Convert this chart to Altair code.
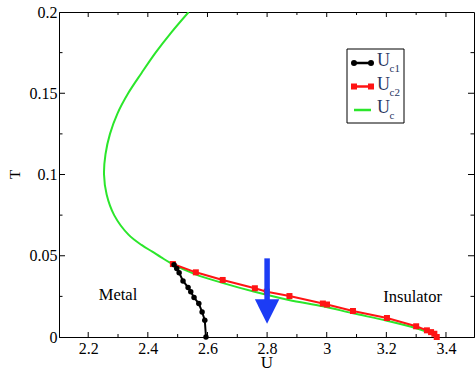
import altair as alt
import pandas as pd

# ---------------- data ----------------
U_c1 = [2.488, 2.497, 2.505, 2.518, 2.535, 2.544, 2.555, 2.571, 2.582, 2.591, 2.595]
T_c1 = [0.0445, 0.0422, 0.0395, 0.0345, 0.0305, 0.0278, 0.0243, 0.0206, 0.0154, 0.0103, 0.0]

U_c2 = [2.484, 2.561, 2.651, 2.759, 2.799, 2.875, 2.987, 3.001, 3.088, 3.202, 3.300, 3.336, 3.350, 3.361, 3.369]
T_c2 = [0.0449, 0.0398, 0.0351, 0.0300, 0.0279, 0.0252, 0.0206, 0.0200, 0.0160, 0.0117, 0.0066, 0.0041, 0.0030, 0.0020, 0.0]

U_c = [2.537, 2.479, 2.426, 2.379, 2.334, 2.298, 2.273, 2.258, 2.253, 2.262, 2.287, 2.335,
       2.380, 2.415, 2.445, 2.474, 2.560, 2.650, 2.758, 2.873, 2.987, 3.088, 3.202, 3.300, 3.350, 3.366]
T_c = [0.200, 0.1875, 0.175, 0.1625, 0.150, 0.1375, 0.125, 0.1125, 0.100, 0.0875, 0.075, 0.0630,
       0.0565, 0.0525, 0.0490, 0.0458, 0.0385, 0.0333, 0.0278, 0.0228, 0.0189, 0.0146, 0.0100, 0.0054, 0.0022, 0.0]

x_major = [2.2, 2.4, 2.6, 2.8, 3.0, 3.2, 3.4]
x_minor = [2.3, 2.5, 2.7, 2.9, 3.1, 3.3]
y_major = [0, 0.05, 0.1, 0.15, 0.2]
y_inner_major = [0.05, 0.1, 0.15]
y_minor = [0.025, 0.075, 0.125, 0.175]

region_labels = ["Metal", "Insulator"]
region_U = [2.30, 3.288]
region_T = [0.0257, 0.0247]

arrow_U = [2.8]
arrow_T_top = [0.0484]
arrow_T_shaft_end = [0.022]
arrow_T_head = [0.0157]

legend_subs = ["c1", "c2", "c"]
legend_colors = ["#000000", "#ff1414", "#2be62b"]
legend_shapes = ["circle", "square", None]

# ---------------- layout constants ----------------
W, H = 415, 325
XDOM = [2.102, 3.494]
YDOM = [0, 0.2]
FONT = "Times New Roman, Liberation Serif, DejaVu Serif, serif"

xs = alt.Scale(domain=XDOM, nice=False, zero=False)
ys = alt.Scale(domain=YDOM, nice=False, zero=False)

def X(field):
    return alt.X(field, scale=xs, title="U")

def Y(field):
    return alt.Y(field, scale=ys, title="T")

df_c1 = pd.DataFrame({"U": U_c1, "T": T_c1, "i": range(len(U_c1))})
df_c2 = pd.DataFrame({"U": U_c2, "T": T_c2, "i": range(len(U_c2))})
df_c = pd.DataFrame({"U": U_c, "T": T_c, "i": range(len(U_c))})

x_axis = alt.Axis(values=x_major, format="~g", title="U", titleFont=FONT, titleFontSize=17,
                  titleFontWeight="normal", titleColor="black", titleBaseline="alphabetic",
                  titleY=30, labelFont=FONT, labelFontSize=16, labelColor="black",
                  labelPadding=3, tickSize=0, domainColor="black", grid=False)
y_axis = alt.Axis(values=y_major, format="~g", title="T", titleFont=FONT, titleFontSize=15,
                  titleFontWeight="normal", titleColor="black", titleX=-40, titleY=162,
                  titleAlign="center", titleBaseline="alphabetic",
                  labelFont=FONT, labelFontSize=16, labelColor="black",
                  labelPadding=2, tickSize=0, domainColor="black", grid=False)

green = alt.Chart(df_c).mark_line(color="#2be62b", strokeWidth=2, interpolate="catmull-rom", clip=True).encode(
    x=alt.X("U:Q", scale=xs, axis=x_axis),
    y=alt.Y("T:Q", scale=ys, axis=y_axis),
    order="i:Q",
)

red_line = alt.Chart(df_c2).mark_line(color="#ff1414", strokeWidth=2).encode(
    x=X("U:Q"), y=Y("T:Q"), order="i:Q")
red_pts = alt.Chart(df_c2).mark_point(shape="square", filled=True, size=36, color="#ff1414", opacity=1).encode(
    x=X("U:Q"), y=Y("T:Q"))

black_line = alt.Chart(df_c1).mark_line(color="black", strokeWidth=2).encode(
    x=X("U:Q"), y=Y("T:Q"), order="i:Q")
black_pts = alt.Chart(df_c1).mark_point(shape="circle", filled=True, size=30, color="black", opacity=1).encode(
    x=X("U:Q"), y=Y("T:Q"))

# region labels
df_reg = pd.DataFrame({"label": region_labels, "U": region_U, "T": region_T})
regions = alt.Chart(df_reg).mark_text(font=FONT, fontSize=16.5, color="black", baseline="middle").encode(
    x=X("U:Q"), y=Y("T:Q"), text="label:N")

# arrow
df_arrow = pd.DataFrame({"U": arrow_U, "T0": arrow_T_top, "T1": arrow_T_shaft_end, "Th": arrow_T_head})
arrow_shaft = alt.Chart(df_arrow).mark_rule(color="#1c3cf5", strokeWidth=5.5).encode(
    x=X("U:Q"), y=Y("T0:Q"), y2="T1:Q")
arrow_head = alt.Chart(df_arrow).mark_point(shape="M-1,-1L1,-1L0,1Z", filled=True, size=600,
                                            color="#1c3cf5", opacity=1).encode(
    x=X("U:Q"), y=Y("Th:Q"))

# inward ticks on all four sides
df_xM = pd.DataFrame({"v": x_major})
df_xm = pd.DataFrame({"v": x_minor})
df_yM = pd.DataFrame({"v": y_inner_major})
df_ym = pd.DataFrame({"v": y_minor})

def xticks(df, length):
    b = alt.Chart(df).mark_rule(color="black", strokeWidth=1).encode(
        x=X("v:Q"), y=alt.value(H), y2=alt.value(H - length))
    t = alt.Chart(df).mark_rule(color="black", strokeWidth=1).encode(
        x=X("v:Q"), y=alt.value(0), y2=alt.value(length))
    return [b, t]

def yticks(df, length):
    l = alt.Chart(df).mark_rule(color="black", strokeWidth=1).encode(
        y=Y("v:Q"), x=alt.value(0), x2=alt.value(length))
    r = alt.Chart(df).mark_rule(color="black", strokeWidth=1).encode(
        y=Y("v:Q"), x=alt.value(W), x2=alt.value(W - length))
    return [l, r]

ticks = xticks(df_xM, 5) + xticks(df_xm, 3) + yticks(df_yM, 6) + yticks(df_ym, 3.5)

# legend (drawn by hand to allow subscripts)
one = pd.DataFrame({"a": [0]})
legend_layers = [
    alt.Chart(one).mark_rect(fill="white", stroke="black", strokeWidth=1).encode(
        x=alt.value(288), x2=alt.value(345), y=alt.value(37), y2=alt.value(111))
]
rows_y = [51, 74.5, 98]
for sub, col, shp, ry in zip(legend_subs, legend_colors, legend_shapes, rows_y):
    legend_layers.append(alt.Chart(one).mark_rule(color=col, strokeWidth=2.5).encode(
        x=alt.value(295), x2=alt.value(312), y=alt.value(ry)))
    if shp is not None:
        for px in (295, 312):
            legend_layers.append(alt.Chart(one).mark_point(shape=shp, filled=True, size=36, color=col, opacity=1).encode(
                x=alt.value(px), y=alt.value(ry)))
    legend_layers.append(alt.Chart(one).mark_text(text="U", font=FONT, fontSize=18, color="#27355f",
                                                  align="left", baseline="alphabetic").encode(
        x=alt.value(318), y=alt.value(ry + 3)))
    legend_layers.append(alt.Chart(one).mark_text(text=sub, font=FONT, fontSize=11, color="#27355f",
                                                  align="left", baseline="alphabetic").encode(
        x=alt.value(330.5), y=alt.value(ry + 9)))

chart = alt.layer(
    green, red_line, red_pts, black_line, black_pts, regions, arrow_shaft, arrow_head,
    *ticks, *legend_layers
).properties(
    width=W, height=H,
    autosize=alt.AutoSizeParams(type="none"),
    padding={"left": 59, "top": 12, "right": 1, "bottom": 34},
    background="white",
).configure_view(stroke="black", strokeWidth=1
).configure_axis(labelFont=FONT, titleFont=FONT, labelFontSize=16, labelColor="black",
                 titleColor="black", domainColor="black", tickSize=0, grid=False)

chart.save("out.html", embed_options={"renderer": "svg", "actions": False})
